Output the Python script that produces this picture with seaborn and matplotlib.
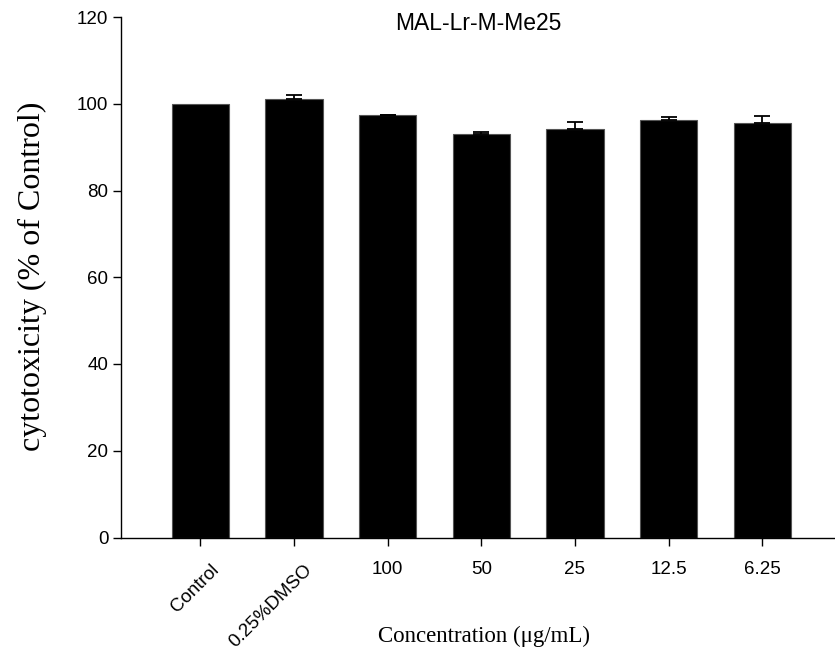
import matplotlib
matplotlib.use("Agg")
import matplotlib.pyplot as plt
import matplotlib.transforms as mtransforms
import seaborn as sns
import pandas as pd
import numpy as np

categories = ["Control", "0.25%DMSO", "100", "50", "25", "12.5", "6.25"]
values = [100.0, 101.15, 97.3, 93.0, 94.2, 96.15, 95.6]
errors = [0.0, 0.85, 0.16, 0.4, 1.6, 0.7, 1.55]

sns.set_theme(style="ticks")
plt.rcParams['font.family'] = ['Liberation Sans', 'DejaVu Sans']
plt.rcParams['text.color'] = 'black'
plt.rcParams['axes.labelcolor'] = 'black'

df = pd.DataFrame({"cat": categories, "val": values})

W, H = 835, 658
left, right, bottom, top = 121.5, 835, 537.5, 17
fig = plt.figure(figsize=(W / 100, H / 100), dpi=100)
ax = fig.add_axes([left / W, 1 - bottom / H, (right - left) / W, (bottom - top) / H])

sns.barplot(data=df, x="cat", y="val", color="black", width=0.61,
            saturation=1, ax=ax, errorbar=None, edgecolor="#555555", linewidth=0.8)
x = np.arange(len(categories))
err = np.array(errors)
mask = err > 0
ax.errorbar(x[mask], np.array(values)[mask], yerr=[np.zeros(mask.sum()), err[mask]],
            fmt="none", ecolor="black", elinewidth=1.3, capsize=6, capthick=1.3)

ax.set_xlim(-0.841, 6.776)
ax.set_ylim(0, 120)
ax.set_yticks([0, 20, 40, 60, 80, 100, 120])
ax.tick_params(axis="both", labelsize=13.5, direction="out", length=6, width=1,
               colors="black", labelcolor="black")
ax.tick_params(axis="x", pad=11)
ax.set_xticks(x)
labels = ax.set_xticklabels(categories)
shift = mtransforms.ScaledTranslation(10 / 100, 0, fig.dpi_scale_trans)
for i, lab in enumerate(labels):
    if i < 2:
        lab.set_rotation(45)
        lab.set_ha("right")
        lab.set_va("top")
        lab.set_rotation_mode("anchor")
        lab.set_transform(lab.get_transform() + shift)

for s in ["top", "right"]:
    ax.spines[s].set_visible(False)
for s in ["left", "bottom"]:
    ax.spines[s].set_linewidth(1)
    ax.spines[s].set_color("black")

ax.set_xlabel("Concentration (μg/mL)", fontfamily="Liberation Serif", fontsize=16.5, color="black")
ax.xaxis.set_label_coords((483.5 - left) / (right - left), (bottom - 626) / (bottom - top))
ax.set_ylabel("cytotoxicity (% of Control)", fontfamily="Liberation Serif", fontsize=23, color="black")
ax.yaxis.set_label_coords((47 - left) / (right - left), (bottom - 276) / (bottom - top))
ax.set_title("MAL-Lr-M-Me25", fontsize=16.5, y=(bottom - 30) / (bottom - top), pad=0,
             va="baseline", color="black")

fig.savefig("out.png", dpi=100)
